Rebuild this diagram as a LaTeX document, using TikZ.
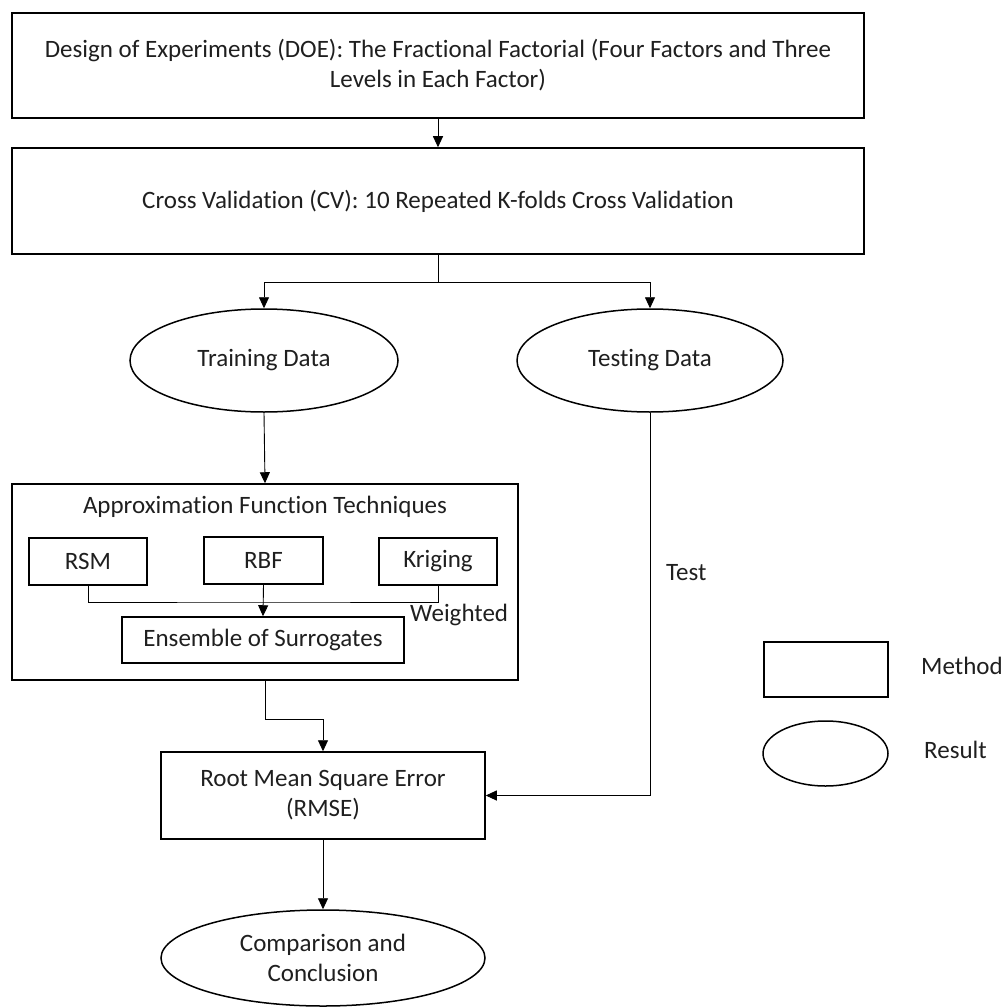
\documentclass[tikz,border=0pt]{standalone}
\usepackage{fontspec}
\setmainfont{Carlito}[Ligatures=NoCommon]
\usetikzlibrary{shapes.geometric,arrows.meta}

\begin{document}
\begin{tikzpicture}[x=1pt, y=-1pt, >={Triangle[length=11pt,width=10pt]},
  every node/.style={font=\fontsize{25}{30}\selectfont, text=black!88, inner sep=0pt},
  box/.style={draw, line width=1.5pt, rectangle, align=center},
  res/.style={draw, line width=1.5pt, ellipse, align=center},
  link/.style={line width=0.9pt, ->}]
  \useasboundingbox (0,0) rectangle (1002,1008);

  % Etape de sus
  \node[box, minimum width=852pt, minimum height=105pt] (doe) at (438,65.5)
    {Design of Experiments (DOE): The Fractional Factorial (Four Factors and Three\\Levels in Each Factor)};
  \node[box, minimum width=852pt, minimum height=106pt] (cv) at (438,201)
    {Cross Validation (CV): 10 Repeated K-folds Cross Validation};

  % Datele
  \node[res, minimum width=268pt, minimum height=103pt] (train) at (264,360.5) {Training Data};
  \node[res, minimum width=266pt, minimum height=103pt] (test) at (650,360.5) {Testing Data};

  % Blocul de aproximare
  \node[box, minimum width=506pt, minimum height=196pt] (approx) at (265,582) {};
  \node (afttitle) at (265,507) {Approximation Function Techniques};
  \node[box, minimum width=118pt, minimum height=47pt] (rsm) at (88,561.5) {RSM};
  \node[box, minimum width=119pt, minimum height=47pt] (rbf) at (263.5,560.5) {RBF};
  \node[box, minimum width=118pt, minimum height=47pt] (krig) at (438,561.5) {Kriging};
  \node[box, minimum width=282pt, minimum height=46pt] (ens) at (263,640) {Ensemble of Surrogates};
  \node[anchor=west] (wlabel) at (410,615) {Weighted};
  \coordinate (wbus) at (264,602);

  % Evaluare si concluzie
  \node[box, minimum width=324pt, minimum height=87pt] (rmse) at (323,795.5)
    {Root Mean Square Error\\(RMSE)};
  \node[res, minimum width=324pt, minimum height=96pt] (concl) at (323,958)
    {Comparison and\\Conclusion};
  \node[anchor=west] (tlabel) at (666,573) {Test};

  % Legenda
  \node[box, minimum width=124pt, minimum height=55pt] (legm) at (826,669.5) {};
  \node[anchor=west] (legmtxt) at (921,666) {Method};
  \node[res, minimum width=125pt, minimum height=65pt] (legr) at (825.5,753.5) {};
  \node[anchor=west] (legrtxt) at (924,750) {Result};

  % Sageti
  \draw[link] (doe) -- (cv);
  \draw[link] (cv.south) -- ++(0,28) -| (train.north);
  \draw[link] (cv.south) -- ++(0,28) -| (test.north);
  \draw[link] (train.south) -- (approx.north);
  \draw[line width=0.9pt] (rsm.south) |- (wbus) -| (krig.south);
  \draw[link] (rbf.south) -- (ens.north);
  \draw[link] (approx.south) -- ++(0,39) -| (rmse.north);
  \draw[link] (test.south) |- (rmse.east);
  \draw[link] (rmse.south) -- (concl.north);
\end{tikzpicture}
\end{document}
